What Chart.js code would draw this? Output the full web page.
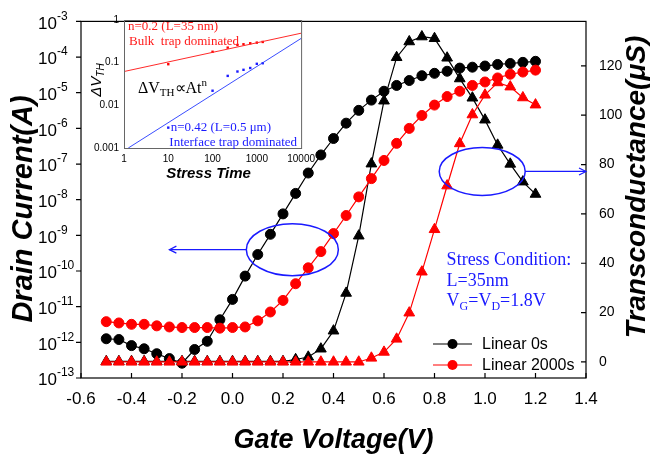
<!DOCTYPE html>
<html><head><meta charset="utf-8">
<script src="https://cdn.jsdelivr.net/npm/chart.js@4/dist/chart.umd.min.js"></script>
<style>
html,body{margin:0;padding:0;background:#fff;}
#wrap{position:relative;width:650px;height:461px;overflow:hidden;}
#main{position:absolute;left:0;top:0;}
#inset{position:absolute;left:80px;top:0;}
</style></head><body>
<div id="wrap"><canvas id="main" width="650" height="461"></canvas><canvas id="inset" width="240" height="185"></canvas></div>
<script>
// ---------- main chart data ----------
const gateVoltage = [-0.5,-0.45,-0.4,-0.35,-0.3,-0.25,-0.2,-0.15,-0.1,-0.05,0.0,0.05,0.1,0.15,0.2,0.25,0.3,0.35,0.4,0.45,0.5,0.55,0.6,0.65,0.7,0.75,0.8,0.85,0.9,0.95,1.0,1.05,1.1,1.15,1.2];
const drainCurrent0s = [1.26e-12,1.2e-12,8.1e-13,6.6e-13,4.8e-13,3.5e-13,2.6e-13,6.3e-13,1.07e-12,4.3e-12,1.6e-11,7.2e-11,2.9e-10,1.07e-9,4.0e-9,1.5e-8,5.6e-8,1.8e-7,5.2e-7,1.4e-6,3.2e-6,6.2e-6,1.1e-5,1.6e-5,2.2e-5,3.0e-5,3.5e-5,4.0e-5,4.9e-5,5.2e-5,5.6e-5,6.2e-5,6.6e-5,7.1e-5,7.6e-5];
const drainCurrent2000s = [3.8e-12,3.5e-12,3.2e-12,3.2e-12,2.9e-12,2.7e-12,2.6e-12,2.6e-12,2.6e-12,2.5e-12,2.6e-12,2.7e-12,4.0e-12,7.1e-12,1.5e-11,4.4e-11,1.23e-10,3.5e-10,1.12e-9,3.6e-9,1.2e-8,3.9e-8,1.26e-7,3.8e-7,1.0e-6,2.3e-6,4.5e-6,7.8e-6,1.1e-5,1.6e-5,2.0e-5,2.6e-5,3.3e-5,3.8e-5,4.3e-5];
const transconductance0s = [0.2,0.2,0.2,0.2,0.2,0.2,0.2,0.2,0.2,0.2,0.2,0.2,0.2,0.2,0.2,1.0,2.0,5.3,12.6,27.9,51.1,80.3,105.8,123.4,129.8,131.8,131.1,123.2,114.8,107.0,98.1,87.9,80.2,73.0,68.0];
const transconductance2000s = [0,0,0,0,0,0,0,0,0,0,0,0,0,0,0,0,0,0,0,0,0,1.6,4.0,9.3,19.9,36.5,53.7,71.4,88.5,100.2,108.2,113.2,111.5,107.1,104.2];
const xTicks = [-0.6,-0.4,-0.2,0.0,0.2,0.4,0.6,0.8,1.0,1.2,1.4];
const leftTickExponents = [-3,-4,-5,-6,-7,-8,-9,-10,-11,-12,-13];
const rightTicks = [0,20,40,60,80,100,120];
const seriesLabels = ['Linear 0s','Linear 2000s'];

// ---------- inset data ----------
const stressTime = [10,100,220,365,500,710,1000,1360];
const dvthBulk = [0.092,0.18,0.225,0.26,0.27,0.285,0.295,0.306];
const dvthInterface = [0.003,0.022,0.049,0.062,0.068,0.075,0.094,0.097];
const bulkFitTime = [1,10000];
const bulkFitDvth = [0.062,0.49];
const interfaceFitTime = [1.25,10000];
const interfaceFitDvth = [0.001,0.37];
const insetTimeTicks = [1,10,100,1000,10000];
const insetDvthTicks = [0.001,0.01,0.1,1];

const SANS = '"Liberation Sans", Arial, sans-serif';
const SERIF = '"Liberation Serif", "Times New Roman", serif';
Chart.defaults.font.family = SANS;
Chart.defaults.color = '#000';

function pts(xs, ys){ return xs.map((v,i)=>({x:v,y:ys[i]})); }

function drawRich(ctx, parts, x, y){
  let cx = x;
  parts.forEach(p=>{
    ctx.font = p.font;
    ctx.fillText(p.t, cx, y + (p.dy||0));
    cx += ctx.measureText(p.t).width;
  });
  return cx - x;
}
function richWidth(ctx, parts){
  let w=0; parts.forEach(p=>{ctx.font=p.font; w+=ctx.measureText(p.t).width;}); return w;
}
function arrowHead(ctx, tx, ty, dir){
  ctx.beginPath();
  ctx.moveTo(tx - dir*7, ty - 3.5);
  ctx.lineTo(tx, ty);
  ctx.lineTo(tx - dir*7, ty + 3.5);
  ctx.stroke();
}

const mainDecor = {
  id:'mainDecor',
  afterDraw(chart){
    const {ctx, chartArea:a} = chart;
    const x = chart.scales.x, y = chart.scales.y, y1 = chart.scales.y1;
    ctx.save();
    // frame + ticks
    ctx.strokeStyle = '#000'; ctx.lineWidth = 1.2;
    ctx.strokeRect(a.left, a.top, a.right-a.left, a.bottom-a.top);
    ctx.beginPath();
    leftTickExponents.forEach(e=>{ const py = y.getPixelForValue(Math.pow(10,e)); ctx.moveTo(a.left-5,py); ctx.lineTo(a.left,py); });
    xTicks.forEach(v=>{ const px = x.getPixelForValue(v); ctx.moveTo(px,a.bottom); ctx.lineTo(px,a.bottom-5); });
    rightTicks.forEach(v=>{ const py = y1.getPixelForValue(v); ctx.moveTo(a.right,py); ctx.lineTo(a.right-5,py); });
    ctx.stroke();

    // left tick labels 10^n
    ctx.fillStyle = '#000'; ctx.textAlign = 'left'; ctx.textBaseline = 'middle';
    leftTickExponents.forEach(e=>{
      const py = y.getPixelForValue(Math.pow(10,e));
      ctx.font = '17px ' + SANS;
      ctx.fillText('10', 38, py+2.5);
      const w = ctx.measureText('10').width;
      ctx.font = '12px ' + SANS;
      ctx.fillText('-' + Math.abs(e), 38 + w, py-5);
    });

    // axis titles
    ctx.textAlign = 'center'; ctx.textBaseline = 'alphabetic';
    ctx.font = 'italic bold 29px ' + SANS;
    ctx.save(); ctx.translate(32, 209); ctx.rotate(-Math.PI/2); ctx.fillText('Drain Current(A)', 0, 0); ctx.restore();
    ctx.font = 'italic bold 28px ' + SANS;
    ctx.save(); ctx.translate(645, 187); ctx.rotate(-Math.PI/2); ctx.fillText('Transconductance(\u03bcS)', 0, 0); ctx.restore();
    ctx.font = 'italic bold 27px ' + SANS;
    ctx.fillText('Gate Voltage(V)', (a.left+a.right)/2, 448);

    // annotations (blue)
    ctx.strokeStyle = '#1a1aff'; ctx.lineWidth = 1.5;
    const e1x = x.getPixelForValue(0.237), e1y = y.getPixelForValue(3.98e-10);
    ctx.beginPath(); ctx.ellipse(e1x, e1y, 46, 26, 0, 0, Math.PI*2); ctx.stroke();
    const t1x = x.getPixelForValue(-0.25);
    ctx.lineWidth = 1.2;
    ctx.beginPath(); ctx.moveTo(e1x-46, e1y); ctx.lineTo(t1x, e1y); ctx.stroke();
    arrowHead(ctx, t1x, e1y, -1);
    ctx.lineWidth = 1.5;
    const e2x = x.getPixelForValue(0.989), e2y = y1.getPixelForValue(77.2);
    ctx.beginPath(); ctx.ellipse(e2x, e2y, 43, 24, 0, 0, Math.PI*2); ctx.stroke();
    ctx.lineWidth = 1.2;
    ctx.beginPath(); ctx.moveTo(e2x+43, e2y); ctx.lineTo(a.right, e2y); ctx.stroke();
    arrowHead(ctx, a.right, e2y, 1);

    // stress condition text
    ctx.fillStyle = '#1a1aff'; ctx.textAlign = 'left'; ctx.textBaseline = 'alphabetic';
    const sx = x.getPixelForValue(0.848);
    ctx.font = '18px ' + SERIF;
    ctx.fillText('Stress Condition:', sx, y1.getPixelForValue(39.1));
    ctx.fillText('L=35nm', sx, y1.getPixelForValue(30.7));
    const big = '18px ' + SERIF, sub = '12px ' + SERIF;
    drawRich(ctx, [{t:'V',font:big},{t:'G',font:sub,dy:4},{t:'=V',font:big},{t:'D',font:sub,dy:4},{t:'=1.8V',font:big}], sx, y1.getPixelForValue(22.6));

    // legend
    const colors = ['#000','#ff0000'];
    ctx.textBaseline = 'middle';
    seriesLabels.forEach((lab,i)=>{
      const ly = a.bottom - 34 + i*21;
      ctx.strokeStyle = colors[i]; ctx.fillStyle = colors[i]; ctx.lineWidth = 1.2;
      ctx.beginPath(); ctx.moveTo(a.right-153, ly); ctx.lineTo(a.right-114, ly); ctx.stroke();
      ctx.beginPath(); ctx.arc(a.right-133.5, ly, 5, 0, Math.PI*2); ctx.fill();
      ctx.fillStyle = '#000'; ctx.font = '16px ' + SANS;
      ctx.fillText(lab, a.right-104, ly+1);
    });
    ctx.restore();
  }
};

new Chart(document.getElementById('main'), {
  type:'line',
  data:{ datasets:[
    { label:'Linear 0s', data: pts(gateVoltage, drainCurrent0s), yAxisID:'y', borderColor:'#000', backgroundColor:'#000',
      pointStyle:'circle', pointRadius:5, pointBorderWidth:1, borderWidth:1.2, tension:0, order:3 },
    { label:'gm 0s', data: pts(gateVoltage, transconductance0s), yAxisID:'y1', borderColor:'#000', backgroundColor:'#000',
      pointStyle:'triangle', pointRadius:6.2, pointBorderWidth:1, borderWidth:1.2, tension:0, order:2 },
    { label:'Linear 2000s', data: pts(gateVoltage, drainCurrent2000s), yAxisID:'y', borderColor:'#ff0000', backgroundColor:'#ff0000',
      pointStyle:'circle', pointRadius:5, pointBorderWidth:1, borderWidth:1.2, tension:0, order:1 },
    { label:'gm 2000s', data: pts(gateVoltage, transconductance2000s), yAxisID:'y1', borderColor:'#ff0000', backgroundColor:'#ff0000',
      pointStyle:'triangle', pointRadius:6.2, pointBorderWidth:1, borderWidth:1.2, tension:0, order:0 }
  ]},
  options:{
    responsive:false, animation:false, devicePixelRatio:1,
    layout:{padding:{top:15,left:0,right:0,bottom:0}},
    plugins:{legend:{display:false}, tooltip:{enabled:false}},
    scales:{
      x:{ type:'linear', position:'bottom', min:-0.6, max:1.4,
          afterFit(s){ s.height = 83; },
          afterBuildTicks(s){ s.ticks = xTicks.map(v=>({value:v})); },
          grid:{display:false, drawTicks:false}, border:{display:false},
          ticks:{ font:{size:17}, color:'#000', padding:11, maxRotation:0, autoSkip:false, callback:(v)=>Number(v).toFixed(1) } },
      y:{ type:'logarithmic', position:'left', min:1e-13, max:1e-3,
          afterFit(s){ s.width = 81; },
          afterBuildTicks(s){ s.ticks = leftTickExponents.map(e=>({value:Math.pow(10,e)})); },
          grid:{display:false, drawTicks:false}, border:{display:false},
          ticks:{ display:false } },
      y1:{ type:'linear', position:'right', min:-6.5, max:138,
          afterFit(s){ s.width = 64; },
          afterBuildTicks(s){ s.ticks = rightTicks.map(v=>({value:v})); },
          grid:{display:false, drawTicks:false}, border:{display:false},
          ticks:{ font:{size:14}, color:'#000', padding:13 } }
    }
  },
  plugins:[mainDecor]
});

// ---------- inset ----------
const insetDecor = {
  id:'insetDecor',
  afterDraw(chart){
    const {ctx, chartArea:a} = chart;
    ctx.save();
    ctx.strokeStyle = '#666'; ctx.lineWidth = 1;
    ctx.strokeRect(a.left+0.5, a.top+0.5, a.right-a.left, a.bottom-a.top);
    ctx.textAlign = 'left'; ctx.textBaseline = 'alphabetic';
    // red texts
    ctx.fillStyle = '#ff1a1a'; ctx.font = '13px ' + SERIF;
    ctx.fillText('n=0.2 (L=35 nm)', a.left+4, a.top+9.5);
    ctx.fillText('Bulk  trap dominated', a.left+5, a.top+24.5);
    // formula
    ctx.fillStyle = '#000';
    const b16 = '16px ' + SERIF, s11 = '11px ' + SERIF;
    drawRich(ctx, [{t:'\u0394V',font:b16},{t:'TH',font:s11,dy:3},{t:'\u221dAt',font:b16},{t:'n',font:s11,dy:-7}], a.left+14, 93.3);
    // blue texts
    ctx.fillStyle = '#1a1aff'; ctx.font = '13px ' + SERIF;
    ctx.fillText('n=0.42 (L=0.5 \u03bcm)', 90.7, 130.7);
    ctx.fillText('Interface trap dominated', 89.3, 145.7);
    // titles
    ctx.fillStyle = '#000'; ctx.textAlign = 'center';
    ctx.font = 'italic bold 15px ' + SANS;
    ctx.fillText('Stress Time', (a.left+a.right)/2 - 4, 178);
    const yt = [{t:'\u0394V',font:'italic 15px ' + SANS},{t:'TH',font:'italic 10px ' + SANS,dy:3}];
    ctx.save(); ctx.translate(21, 80); ctx.rotate(-Math.PI/2);
    ctx.textAlign = 'left';
    const w = richWidth(ctx, yt);
    drawRich(ctx, yt, -w/2, 0);
    ctx.restore();
    ctx.restore();
  }
};

new Chart(document.getElementById('inset'), {
  type:'scatter',
  data:{ datasets:[
    { data: pts(bulkFitTime, bulkFitDvth), showLine:true, borderColor:'#ff2a2a', borderWidth:1, pointRadius:0 },
    { data: pts(interfaceFitTime, interfaceFitDvth), showLine:true, borderColor:'#3a4dff', borderWidth:1, pointRadius:0 },
    { data: pts(stressTime, dvthBulk), showLine:false, pointStyle:'rect', pointRadius:1.7, backgroundColor:'#ff0000', borderColor:'#ff0000', borderWidth:0 },
    { data: pts(stressTime, dvthInterface), showLine:false, pointStyle:'rect', pointRadius:1.7, backgroundColor:'#1a1aff', borderColor:'#1a1aff', borderWidth:0 }
  ]},
  options:{
    responsive:false, animation:false, devicePixelRatio:1,
    layout:{padding:{top:20,right:16,left:0,bottom:0}},
    plugins:{legend:{display:false}, tooltip:{enabled:false}},
    scales:{
      x:{ type:'logarithmic', min:1, max:10000,
          afterFit(s){ s.height = 37; },
          afterBuildTicks(s){ s.ticks = insetTimeTicks.map(v=>({value:v})); },
          grid:{display:false, drawTicks:false}, border:{display:false},
          ticks:{ font:{size:10}, color:'#000', padding:5, maxRotation:0, autoSkip:false, callback:(v)=>String(v) } },
      y:{ type:'logarithmic', min:0.001, max:1,
          afterFit(s){ s.width = 44; },
          afterBuildTicks(s){ s.ticks = insetDvthTicks.map(v=>({value:v})); },
          grid:{display:false, drawTicks:false}, border:{display:false},
          ticks:{ font:{size:10}, color:'#000', padding:5, autoSkip:false, callback:(v)=>String(v) } }
    }
  },
  plugins:[insetDecor]
});
</script>
</body></html>
